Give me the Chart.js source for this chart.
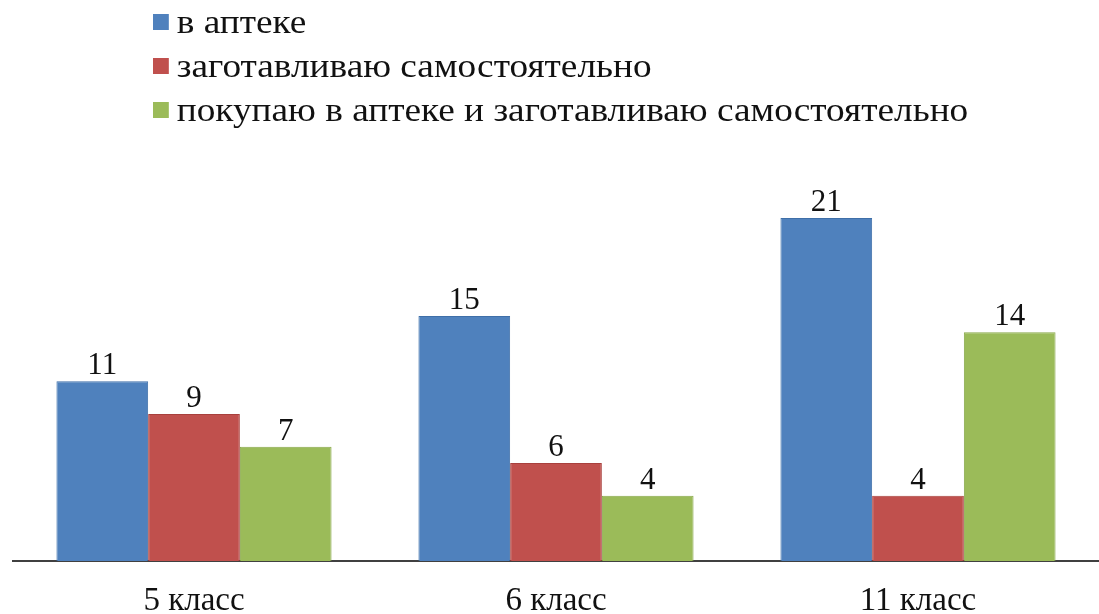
<!DOCTYPE html>
<html>
<head>
<meta charset="utf-8">
<script src="https://cdn.jsdelivr.net/npm/chart.js@4"></script>
<style>
  html, body { margin: 0; padding: 0; background: #fff; overflow: hidden; }
  #wrap { position: relative; width: 1099px; height: 614px; }
  #legend { position: absolute; left: 153px; top: 0px; font-family: 'Liberation Serif', serif; font-size: 33px; color: #111; line-height: 44px; transform: scaleX(1.13); transform-origin: left top; }
  #legend .row { display: flex; align-items: center; white-space: nowrap; }
  #legend .sw { width: 14px; height: 16px; margin-right: 7px; }
  canvas { position: absolute; left: 0; top: 0; }
</style>
</head>
<body>
<div id="wrap">
  <canvas id="chart" width="1099" height="614"></canvas>
  <div id="legend"></div>
</div>
<script>
const categories = ['5 класс', '6 класс', '11 класс'];
const seriesNames = ['в аптеке', 'заготавливаю самостоятельно', 'покупаю в аптеке и заготавливаю самостоятельно'];
const pharmacy = [11, 15, 21];
const homemade = [9, 6, 4];
const both = [7, 4, 14];

const BLUE  = '#4f81bd';
const RED   = '#c0504d';
const GREEN = '#9bbb59';
const colors = [BLUE, RED, GREEN];
const borders = ['#3f6fa8', '#a8403d', '#88a84a'];
const FONT = '"Liberation Serif", serif';

// legend as plain html, stacked like the original
const legendEl = document.getElementById('legend');
seriesNames.forEach((name, i) => {
  const row = document.createElement('div');
  row.className = 'row';
  row.innerHTML = '<span class="sw" style="background:' + colors[i] + '"></span><span>' + name + '</span>';
  legendEl.appendChild(row);
});

// value labels above each bar
const valueLabels = {
  id: 'valueLabels',
  afterDatasetsDraw(chart) {
    const ctx = chart.ctx;
    ctx.save();
    ctx.font = '31px ' + FONT;
    ctx.fillStyle = '#111';
    ctx.textAlign = 'center';
    ctx.textBaseline = 'alphabetic';
    chart.data.datasets.forEach((ds, i) => {
      chart.getDatasetMeta(i).data.forEach((bar, j) => {
        ctx.fillText(ds.data[j], bar.x, bar.y - 7);
      });
    });
    ctx.restore();
  }
};

const data = [pharmacy, homemade, both];

new Chart(document.getElementById('chart'), {
  type: 'bar',
  data: {
    labels: categories,
    datasets: seriesNames.map((name, i) => ({
      label: name,
      data: data[i],
      backgroundColor: colors[i],
      borderColor: borders[i],
      borderWidth: 1,
      borderSkipped: 'bottom',
      barPercentage: 1.0,
      categoryPercentage: 0.76
    }))
  },
  options: {
    responsive: false,
    animation: false,
    layout: { padding: { top: 218, left: 13, right: 0, bottom: 0 } },
    plugins: { legend: { display: false }, tooltip: { enabled: false } },
    scales: {
      x: {
        afterFit(axis) { axis.height = 53; },
        grid: { display: false, drawTicks: false },
        border: { display: true, color: '#404040', width: 2 },
        ticks: { color: '#111', padding: 21, font: { family: FONT, size: 33 } }
      },
      y: {
        display: false,
        min: 0,
        max: 21
      }
    }
  },
  plugins: [valueLabels]
});
</script>
</body>
</html>
